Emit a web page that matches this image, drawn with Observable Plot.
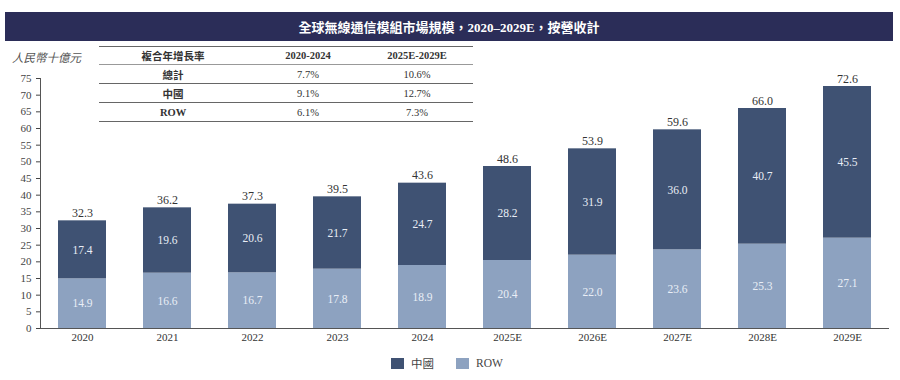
<!DOCTYPE html>
<html>
<head>
<meta charset="utf-8">
<script src="https://cdn.jsdelivr.net/npm/d3@7"></script>
<script src="https://cdn.jsdelivr.net/npm/@observablehq/plot@0.6"></script>
<style>
  html, body { margin: 0; padding: 0; background: #fff; }
  #wrap { position: relative; width: 900px; height: 380px; overflow: hidden;
          font-family: "Liberation Serif", "Noto Sans CJK TC", serif; color: #333; }
  #chart { position: absolute; left: 0; top: 0; }
  #title { position: absolute; left: 5px; top: 12px; width: 888px; height: 29px;
           background: #2b2d58; color: #fff; font-weight: bold; font-size: 13px;
           display: flex; align-items: center; justify-content: center; }
  #unit { position: absolute; left: 12px; top: 49px; font-style: italic; font-size: 11.5px; color: #555; }
  #cagr { position: absolute; left: 99px; top: 46px; width: 374px; border-collapse: collapse;
          font-size: 10.5px; color: #333; background: #fff; }
  #cagr td { text-align: center; padding: 0; border-bottom: 1.5px solid #666; }
  #cagr tr.h td { border-top: 1.5px solid #666; border-bottom: 1px solid #999; height: 17px; font-weight: bold; }
  #cagr tr.r td { height: 18px; }
  #cagr td.b { font-weight: bold; }
  #cagr td.c3 { padding-right: 8px; }
  #legend { position: absolute; top: 355px; left: 391px; display: flex;
            font-size: 11.5px; color: #444; }
  .item { display: flex; align-items: center; margin-right: 22px; }
  .sw { width: 13px; height: 11px; margin-right: 7px; }
</style>
</head>
<body>
<div id="wrap">
  <div id="chart"></div>
  <div id="title"></div>
  <div id="unit"></div>
  <table id="cagr"></table>
  <div id="legend"></div>
</div>
<script>
const titleText = "全球無線通信模組市場規模，2020–2029E，按營收計";
const unitText = "人民幣十億元";
const years = ["2020", "2021", "2022", "2023", "2024", "2025E", "2026E", "2027E", "2028E", "2029E"];
const chinaValues = [17.4, 19.6, 20.6, 21.7, 24.7, 28.2, 31.9, 36.0, 40.7, 45.5];
const rowValues = [14.9, 16.6, 16.7, 17.8, 18.9, 20.4, 22.0, 23.6, 25.3, 27.1];
const totalValues = [32.3, 36.2, 37.3, 39.5, 43.6, 48.6, 53.9, 59.6, 66.0, 72.6];
const seriesNames = ["中國", "ROW"];
const seriesColors = ["#3f5273", "#8da2c0"];
const yTicks = [0, 5, 10, 15, 20, 25, 30, 35, 40, 45, 50, 55, 60, 65, 70, 75];
const cagrHeader = ["複合年增長率", "2020-2024", "2025E-2029E"];
const cagrLabels = ["總計", "中國", "ROW"];
const cagrPeriod1 = ["7.7%", "9.1%", "6.1%"];
const cagrPeriod2 = ["10.6%", "12.7%", "7.3%"];

const serif = "'Liberation Serif', 'Noto Sans CJK TC', serif";

// Build data
const stacked = years.flatMap((y, i) => [
  {year: y, series: "ROW", value: rowValues[i]},
  {year: y, series: "中國", value: chinaValues[i]}
]);
const totals = years.map((y, i) => ({year: y, total: totalValues[i]}));
const stackOrder = ["ROW", "中國"];

const chart = Plot.plot({
  width: 900,
  height: 355,
  marginLeft: 40,
  marginRight: 11,
  marginTop: 78,
  marginBottom: 27,
  style: {fontFamily: serif, background: "transparent"},
  x: {domain: years, paddingInner: 0.44, paddingOuter: 0.21, label: null},
  y: {domain: [0, 75], label: null},
  color: {domain: seriesNames, range: seriesColors},
  marks: [
    Plot.barY(stacked, Plot.stackY({x: "year", y: "value", z: "series", fill: "series", order: stackOrder})),
    Plot.text(stacked, Plot.stackY({x: "year", y: "value", z: "series", order: stackOrder,
      text: d => d.value.toFixed(1), fill: "#e9eef6", fontSize: 11.5, fontFamily: serif})),
    Plot.text(totals, {x: "year", y: "total", text: d => d.total.toFixed(1),
      lineAnchor: "bottom", dy: -4, fill: "#333", fontSize: 12, fontFamily: serif}),
    Plot.axisY({ticks: yTicks, tickSize: 4, tickPadding: 5, fontSize: 11, color: "#444", label: null, fontFamily: serif}),
    Plot.axisX({tickSize: 0, tickPadding: 5, fontSize: 11, color: "#333", label: null, fontFamily: serif}),
    Plot.frame({anchor: "left", stroke: "#555"}),
    Plot.ruleY([0], {stroke: "#555", strokeWidth: 1.2})
  ]
});
document.getElementById("chart").appendChild(chart);

document.getElementById("title").textContent = titleText;
document.getElementById("unit").textContent = unitText;

// CAGR table
const table = document.getElementById("cagr");
const colW = ["148px", "122px", "96px"];
const hr = document.createElement("tr");
hr.className = "h";
cagrHeader.forEach((t, j) => {
  const td = document.createElement("td");
  td.textContent = t;
  td.style.width = colW[j];
  if (j === 2) td.classList.add("c3");
  hr.appendChild(td);
});
table.appendChild(hr);
cagrLabels.forEach((lab, i) => {
  const tr = document.createElement("tr");
  tr.className = "r";
  [lab, cagrPeriod1[i], cagrPeriod2[i]].forEach((t, j) => {
    const td = document.createElement("td");
    td.textContent = t;
    if (j === 0) td.classList.add("b");
    if (j === 2) td.classList.add("c3");
    tr.appendChild(td);
  });
  table.appendChild(tr);
});

// Legend
const legend = document.getElementById("legend");
seriesNames.forEach((s, i) => {
  const item = document.createElement("div");
  item.className = "item";
  const sw = document.createElement("div");
  sw.className = "sw";
  sw.style.background = seriesColors[i];
  const lb = document.createElement("span");
  lb.textContent = s;
  item.appendChild(sw);
  item.appendChild(lb);
  legend.appendChild(item);
});
</script>
</body>
</html>
